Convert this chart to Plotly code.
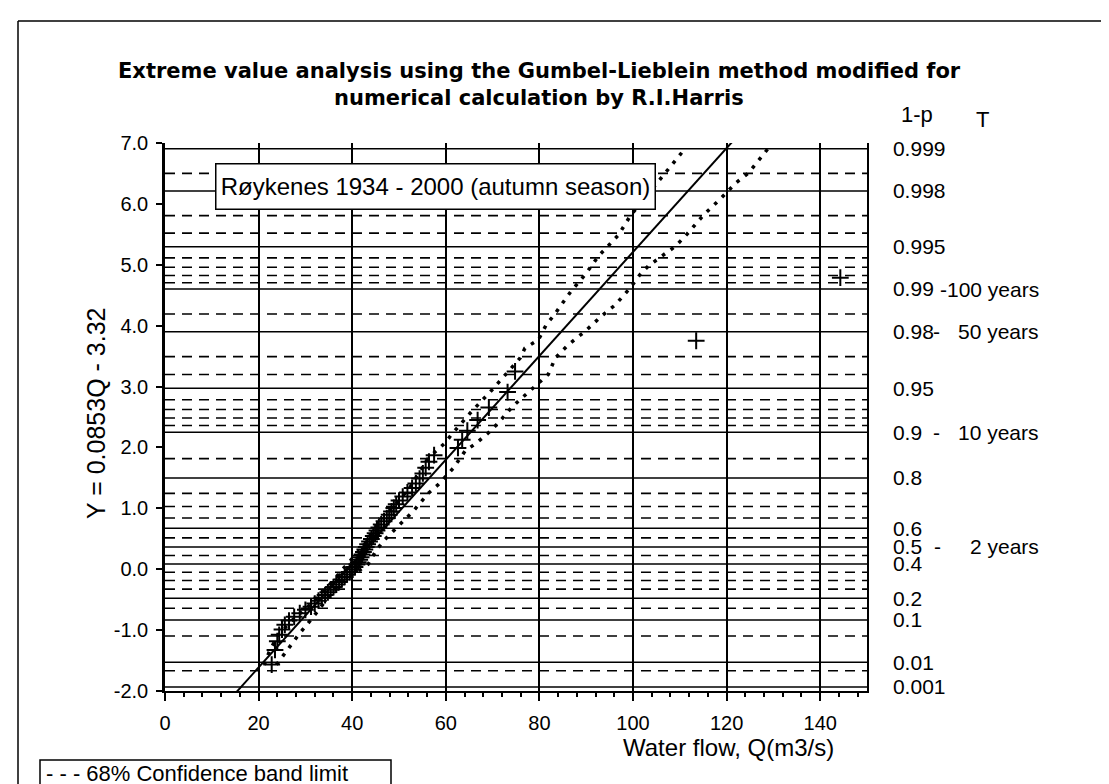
import numpy as np
import plotly.graph_objects as go

W, H = 1109, 784
PL, PR, PT, PB = 157, 859, 135, 683   # plot area in px


def px_x(p):
    return (p - PL) / (PR - PL)


def px_y(p):
    return (PB - p) / (PB - PT)


# ---------------- data ----------------
# reduced variate (plotting positions) of the ranked observations
y_plot = [-1.566, -1.325, -1.183, -1.077, -0.990, -0.913, -0.844, -0.781, -0.723, -0.667,
          -0.615, -0.565, -0.517, -0.469, -0.424, -0.380, -0.336, -0.293, -0.251, -0.210,
          -0.168, -0.127, -0.086, -0.046, -0.005, 0.035, 0.076, 0.116, 0.157, 0.198,
          0.240, 0.282, 0.324, 0.367, 0.410, 0.454, 0.498, 0.544, 0.590, 0.637,
          0.686, 0.735, 0.786, 0.839, 0.893, 0.948, 1.006, 1.066, 1.128, 1.193,
          1.261, 1.333, 1.409, 1.489, 1.574, 1.666, 1.765, 1.873, 1.992, 2.125,
          2.275, 2.449, 2.655, 2.910, 3.248, 3.752, 4.788]
# observed water flow Q (m3/s), ranked
q_obs = [22.8, 23.5, 24.0, 24.4, 25.0, 25.6, 26.5, 27.6, 28.8, 30.0,
         31.2, 32.0, 32.8, 33.5, 34.2, 34.8, 35.4, 36.0, 36.6, 37.2,
         37.8, 38.4, 38.9, 39.5, 40.1, 40.6, 41.0, 41.3, 41.6, 41.9,
         42.1, 42.4, 42.7, 43.0, 43.3, 43.7, 44.1, 44.5, 44.9, 45.3,
         45.7, 46.2, 46.8, 47.4, 47.9, 48.4, 48.9, 49.4, 50.0, 50.8,
         51.8, 52.8, 53.6, 54.4, 55.1, 55.7, 56.4, 57.5, 62.6, 63.5,
         64.6, 66.8, 69.2, 73.2, 74.8, 113.5, 144.3]

# 68% confidence band limits
band_up_q = [21.2, 22.4, 24.2, 27.0, 30.5, 34.0, 38.2, 42.6, 45.6, 49.8, 52.3, 56.3, 59.8, 61.2,
             65.5, 69.7, 72.7, 75.9, 76.9, 79.8, 81.5, 83.0, 86.8, 89.8, 92.6, 96.9, 99.4,
             106.9, 110.4]
band_up_y = [-1.57, -1.33, -1.08, -0.85, -0.62, -0.36, 0.02, 0.40, 0.73, 1.12, 1.34, 1.83, 2.07, 2.21,
             2.59, 2.93, 3.20, 3.47, 3.63, 3.77, 4.02, 4.16, 4.57, 4.84, 5.14, 5.49, 5.80,
             6.51, 6.84]
band_lo_q = [23.8, 26.0, 28.5, 31.5, 35.0, 38.5, 41.3, 43.4, 45.2, 47.0, 49.1, 50.9, 53.0, 56.3,
             58.4, 61.6, 64.1, 66.5, 69.1, 71.2, 74.0, 75.5, 78.3, 81.9, 83.4, 86.2, 89.8,
             93.3, 96.2, 99.4, 101.5, 103.3, 106.1, 109.0, 111.4, 115.1, 118.9, 121.9, 124.7, 129.3]
band_lo_y = [-1.57, -1.33, -1.08, -0.80, -0.45, -0.15, -0.03, 0.08, 0.32, 0.49, 0.65, 0.79, 0.95, 1.25,
             1.39, 1.66, 1.94, 2.07, 2.24, 2.40, 2.65, 2.76, 2.95, 3.20, 3.47, 3.69, 3.91,
             4.16, 4.34, 4.62, 4.84, 4.98, 5.14, 5.30, 5.49, 5.82, 6.10, 6.34, 6.51, 6.95]

# fitted line Y = 0.0853 Q - 3.32
fit_slope = 0.0853
fit_intercept = -3.32
fit_q = [14.5, 123.0]

# probability grid
prob_solid = [0.999, 0.998, 0.995, 0.99, 0.98, 0.95, 0.9, 0.8, 0.6, 0.5, 0.4, 0.2, 0.1, 0.01, 0.001]
prob_dash = [0.9985, 0.997, 0.996, 0.994, 0.993, 0.992, 0.991, 0.985, 0.97, 0.96,
             0.94, 0.93, 0.92, 0.91, 0.85, 0.75, 0.7, 0.65, 0.55, 0.45,
             0.35, 0.3, 0.25, 0.15, 0.05, 0.005]
prob_labels = ["0.999", "0.998", "0.995", "0.99", "0.98", "0.95", "0.9", "0.8", "0.6",
               "0.5", "0.4", "0.2", "0.1", "0.01", "0.001"]
return_periods = [(0.99, "100 years", 935), (0.98, "50 years", 928),
                  (0.9, "10 years", 928), (0.5, "2 years", 929)]

y_ticks = [-2, -1, 0, 1, 2, 3, 4, 5, 6, 7]
y_ticktext = ["-2.0", "-1.0", "0.0", "1.0", "2.0", "3.0", "4.0", "5.0", "6.0", "7.0"]
x_ticks = [0, 20, 40, 60, 80, 100, 120, 140]


def gumbel(p):
    return -np.log(-np.log(np.asarray(p, dtype=float)))


FONT = "Liberation Sans, Arial, sans-serif"
BLACK = "#000000"

fig = go.Figure()

fit_y = [fit_slope * q + fit_intercept for q in fit_q]
fig.add_trace(go.Scatter(x=fit_q, y=fit_y, mode="lines",
                         line=dict(color=BLACK, width=2), showlegend=False))
fig.add_trace(go.Scatter(x=band_up_q, y=band_up_y, mode="lines",
                         line=dict(color=BLACK, width=3.5, dash="3.5px,7px"), showlegend=False))
fig.add_trace(go.Scatter(x=band_lo_q, y=band_lo_y, mode="lines",
                         line=dict(color=BLACK, width=3.5, dash="3.5px,7px"), showlegend=False))
fig.add_trace(go.Scatter(x=q_obs, y=y_plot, mode="markers",
                         marker=dict(symbol="cross-thin", size=12, color=BLACK,
                                     line=dict(color=BLACK, width=2)),
                         showlegend=False))
# invisible trace to activate right axis
fig.add_trace(go.Scatter(x=[None], y=[None], yaxis="y2", showlegend=False))

shapes = []
for yv in gumbel(prob_solid):
    shapes.append(dict(type="line", xref="x", yref="y", x0=0, x1=150, y0=yv, y1=yv,
                       line=dict(color=BLACK, width=1.5), layer="below"))
for yv in gumbel(prob_dash):
    shapes.append(dict(type="line", xref="x", yref="y", x0=0, x1=150, y0=yv, y1=yv,
                       line=dict(color=BLACK, width=1.6, dash="10px,7px"), layer="below"))
# outer frame (left & top edges visible)
shapes.append(dict(type="line", xref="paper", yref="paper", x0=px_x(10), x1=px_x(1120),
                   y0=px_y(13), y1=px_y(13), line=dict(color=BLACK, width=1.5)))
shapes.append(dict(type="line", xref="paper", yref="paper", x0=px_x(10), x1=px_x(10),
                   y0=px_y(13), y1=px_y(800), line=dict(color=BLACK, width=1.5)))
# legend box
shapes.append(dict(type="rect", xref="paper", yref="paper", x0=px_x(32), x1=px_x(383),
                   y0=px_y(752), y1=px_y(779), line=dict(color=BLACK, width=1.5),
                   fillcolor="white"))


def txt(text, x, y, size, xanchor="center", yanchor="middle", family=FONT, bold=False, **kw):
    f = dict(family=family, size=size, color=BLACK)
    if bold:
        f["weight"] = "bold"
    d = dict(text=text, x=px_x(x), y=px_y(y), xref="paper", yref="paper", showarrow=False,
             xanchor=xanchor, yanchor=yanchor, font=f)
    d.update(kw)
    return d


annotations = [
    txt("Extreme value analysis using the Gumbel-Lieblein method modified for", 531, 63, 21,
        family="DejaVu Sans, sans-serif", bold=True),
    txt("numerical calculation by R.I.Harris", 531, 90, 21,
        family="DejaVu Sans, sans-serif", bold=True),
    txt("1-p", 891, 106, 22, xanchor="left"),
    txt("T", 974, 112, 22),
    txt("Røykenes 1934 - 2000 (autumn season)", 427, 178.5, 24, bgcolor="white",
        bordercolor=BLACK, borderwidth=1.5, width=436, height=42),
    txt("Y = 0.0853Q - 3.32", 88, 405, 25, textangle=-90),
    txt("Water flow, Q(m3/s)", 720, 739, 24),
    txt("- - - 68% Confidence band limit", 36, 765.5, 22, xanchor="left"),
]
for p, label, dash_x in return_periods:
    yv = float(gumbel(p))
    annotations.append(dict(text="-", x=px_x(dash_x), y=yv, xref="paper", yref="y",
                            xanchor="center", yanchor="middle",
                            showarrow=False, font=dict(family=FONT, size=21, color=BLACK)))
    annotations.append(dict(text=label, x=px_x(1033), y=yv, xref="paper", yref="y",
                            showarrow=False, xanchor="right", yanchor="middle",
                            font=dict(family=FONT, size=21, color=BLACK)))

fig.update_layout(
    width=W, height=H,
    margin=dict(l=PL, r=W - PR, t=PT, b=H - PB, pad=0),
    paper_bgcolor="white", plot_bgcolor="white",
    showlegend=False,
    xaxis=dict(range=[0, 150], tickvals=x_ticks, showgrid=True, gridcolor=BLACK, gridwidth=1.5,
               zeroline=False, showline=True, linecolor=BLACK, linewidth=2,
               ticks="outside", ticklen=8, tickwidth=2, tickcolor=BLACK,
               ticklabelstandoff=5,
               minor=dict(dtick=4, tick0=0, ticks="outside", ticklen=4, tickwidth=1.5,
                          tickcolor=BLACK, showgrid=False),
               tickfont=dict(family=FONT, size=20, color=BLACK)),
    yaxis=dict(range=[-2, 7], tickvals=y_ticks, ticktext=y_ticktext, showgrid=False,
               zeroline=False, showline=True, linecolor=BLACK, linewidth=2.5,
               ticks="outside", ticklen=6, tickwidth=2, tickcolor=BLACK,
               ticklabelstandoff=4,
               tickfont=dict(family=FONT, size=20, color=BLACK)),
    yaxis2=dict(range=[-2, 7], overlaying="y", side="right",
                tickvals=list(gumbel(prob_solid)), ticktext=prob_labels,
                showgrid=False, zeroline=False, showline=True, linecolor=BLACK, linewidth=1.5,
                ticks="", ticklabelstandoff=20,
                tickfont=dict(family=FONT, size=21, color=BLACK)),
    shapes=shapes,
    annotations=annotations,
)

fig.write_html("out.html")
